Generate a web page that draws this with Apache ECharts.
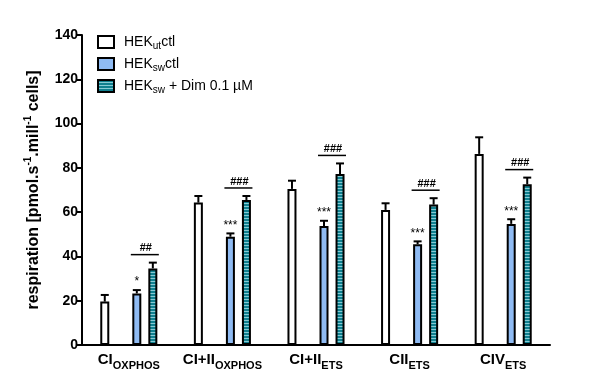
<!DOCTYPE html>
<html>
<head>
<meta charset="utf-8">
<script src="https://cdn.jsdelivr.net/npm/echarts@6/dist/echarts.min.js"></script>
<style>html,body{margin:0;padding:0;background:#fff}#c{width:604px;height:386px}</style>
</head>
<body>
<div id="c"></div>
<script>
// ---- data ----
var categories = ['CI|OXPHOS', 'CI+II|OXPHOS', 'CI+II|ETS', 'CII|ETS', 'CIV|ETS'];
var seriesNames = ['HEKutctl', 'HEKswctl', 'HEKsw + Dim 0.1 µM'];
var whiteMean = [19.6, 64.3, 70.5, 61.0, 86.3];
var whiteErr  = [3.0, 3.0, 3.7, 3.0, 7.5];
var blueMean  = [23.3, 48.9, 53.7, 45.5, 54.7];
var blueErr   = [1.5, 1.5, 2.4, 1.3, 2.1];
var tealMean  = [34.6, 65.5, 77.2, 63.4, 72.6];
var tealErr   = [2.6, 1.8, 4.8, 2.9, 3.0];
var starLabels = ['*', '***', '***', '***', '***'];
var hashLabels = ['##', '###', '###', '###', '###'];
var yTicks = [0, 20, 40, 60, 80, 100, 120, 140];

// ---- styles ----
var FONT = 'Liberation Sans, Arial, sans-serif';
var BAR_W = 9, GAP_PCT = 0.78;
var SLOT = BAR_W * (1 + GAP_PCT);
function slotOffset(slot) { return (slot - 1.5) * SLOT; }

var pc = document.createElement('canvas');
pc.width = 4; pc.height = 3;
var g = pc.getContext('2d');
g.fillStyle = '#10808f'; g.fillRect(0, 0, 4, 3);
g.fillStyle = '#86cbd5'; g.fillRect(0, 2, 4, 1);
var tealPattern = { image: pc, repeat: 'repeat' };

var chart = echarts.init(document.getElementById('c'), null, { renderer: 'canvas' });

function errData(mean, err, slot) {
  return mean.map(function (m, i) { return [i, m, err[i], slot]; });
}
var allErr = errData(whiteMean, whiteErr, 0)
  .concat(errData(blueMean, blueErr, 2))
  .concat(errData(tealMean, tealErr, 3));

var annData = categories.map(function (c, i) {
  return [i, blueMean[i] + blueErr[i], tealMean[i] + tealErr[i]];
});

var legendFmt = {
  'HEKutctl': '{n|HEK}{s|ut}{n|ctl}',
  'HEKswctl': '{n|HEK}{s|sw}{n|ctl}',
  'HEKsw + Dim 0.1 µM': '{n|HEK}{s|sw}{n| + Dim 0.1 µM}'
};

var barBase = { type: 'bar', barWidth: BAR_W, barGap: (GAP_PCT * 100) + '%' };

var option = {
  animation: false,
  backgroundColor: '#fff',
  textStyle: { fontFamily: FONT },
  grid: { left: 82, right: 54, top: 35, bottom: 41 },
  legend: {
    data: seriesNames,
    orient: 'vertical',
    left: 92, top: 28,
    itemWidth: 16, itemHeight: 12, itemGap: 4,
    icon: 'rect',
    formatter: function (n) { return legendFmt[n]; },
    textStyle: {
      padding: [0, 0, 0, 5],
      rich: {
        n: { fontFamily: FONT, fontSize: 14, color: '#000', lineHeight: 15 },
        s: { fontFamily: FONT, fontSize: 10, color: '#000', lineHeight: 10, padding: [8, 0, 0, 0] }
      }
    }
  },
  xAxis: {
    type: 'category',
    data: categories,
    axisLine: { lineStyle: { color: '#000', width: 2 } },
    axisTick: { alignWithLabel: true, length: 5, lineStyle: { color: '#000', width: 2 } },
    axisLabel: {
      interval: 0,
      margin: 6,
      formatter: function (v) { var p = v.split('|'); return '{m|' + p[0] + '}{s|' + p[1] + '}'; },
      rich: {
        m: { fontFamily: FONT, fontSize: 15, fontWeight: 'bold', color: '#000', lineHeight: 18 },
        s: { fontFamily: FONT, fontSize: 11, fontWeight: 'bold', color: '#000', lineHeight: 11, padding: [12, 0, 0, 0] }
      }
    }
  },
  yAxis: {
    type: 'value',
    min: yTicks[0], max: yTicks[yTicks.length - 1], interval: 20,
    splitLine: { show: false },
    axisLine: { show: true, lineStyle: { color: '#000', width: 2 } },
    axisTick: { show: true, length: 5, lineStyle: { color: '#000', width: 2 } },
    axisLabel: { margin: 4, fontFamily: FONT, fontSize: 14, fontWeight: 'bold', color: '#000' },
    name: '{n|respiration [pmol.s}{p|-1}{n|.mill}{p|-1}{n| cells]}',
    nameLocation: 'middle',
    nameGap: 37,
    nameRotate: 90,
    nameTextStyle: {
      rich: {
        n: { fontFamily: FONT, fontSize: 16, fontWeight: 'bold', color: '#000', lineHeight: 20 },
        p: { fontFamily: FONT, fontSize: 10, fontWeight: 'bold', color: '#000', lineHeight: 10, padding: [0, 0, 10, 0] }
      }
    }
  },
  series: [
    Object.assign({ name: seriesNames[0], data: whiteMean,
      itemStyle: { color: '#fff', borderColor: '#000', borderWidth: 2 } }, barBase),
    Object.assign({ name: '_gap', data: whiteMean.map(function () { return '-'; }),
      itemStyle: { color: 'transparent' } }, barBase),
    Object.assign({ name: seriesNames[1], data: blueMean,
      itemStyle: { color: '#8fbbf3', borderColor: '#000', borderWidth: 2 } }, barBase),
    Object.assign({ name: seriesNames[2], data: tealMean,
      itemStyle: { color: tealPattern, borderColor: '#000', borderWidth: 2 } }, barBase),
    {
      type: 'custom', name: 'err', z: 5, silent: true,
      data: allErr,
      renderItem: function (params, api) {
        var ci = api.value(0), m = api.value(1), e = api.value(2), slot = api.value(3);
        var base = api.coord([ci, m]);
        var top = api.coord([ci, m + e]);
        var x = base[0] + slotOffset(slot);
        return {
          type: 'group',
          children: [
            { type: 'line', shape: { x1: x, y1: base[1], x2: x, y2: top[1] }, style: { stroke: '#000', lineWidth: 2 } },
            { type: 'line', shape: { x1: x - 4, y1: top[1], x2: x + 4, y2: top[1] }, style: { stroke: '#000', lineWidth: 2 } }
          ]
        };
      }
    },
    {
      type: 'custom', name: 'ann', z: 6, silent: true,
      data: annData,
      renderItem: function (params, api) {
        var i = params.dataIndex;
        var ci = api.value(0);
        var bTop = api.coord([ci, api.value(1)]);
        var tTop = api.coord([ci, api.value(2)]);
        var cx = bTop[0];
        var xb = cx + slotOffset(2), xt = cx + slotOffset(3);
        var ly = tTop[1] - 8;
        return {
          type: 'group',
          children: [
            { type: 'text', style: { x: xb, y: bTop[1] - 2, text: starLabels[i], textAlign: 'center', textVerticalAlign: 'bottom',
              font: '12px ' + FONT, fill: '#000' } },
            { type: 'line', shape: { x1: xb - 6, y1: ly, x2: xt + 6, y2: ly }, style: { stroke: '#000', lineWidth: 1.5 } },
            { type: 'text', style: { x: (xb + xt) / 2 + 1, y: ly - 1, text: hashLabels[i], textAlign: 'center', textVerticalAlign: 'bottom',
              font: 'bold 11px ' + FONT, fill: '#000' } }
          ]
        };
      }
    }
  ]
};
chart.setOption(option);
</script>
</body>
</html>
